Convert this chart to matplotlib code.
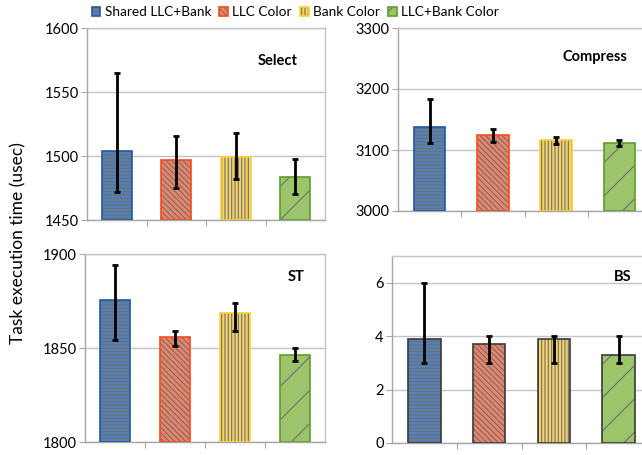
import matplotlib
matplotlib.use("Agg")
import matplotlib.pyplot as plt
from matplotlib.legend_handler import HandlerTuple

plt.rcParams["font.family"] = ["Lato", "DejaVu Sans"]
plt.rcParams["hatch.linewidth"] = 0.8

categories = ["Shared LLC+Bank", "LLC Color", "Bank Color", "LLC+Bank Color"]

select_mean = [1504, 1496.5, 1499.5, 1483.5]
select_low = [1471.5, 1475, 1482, 1470]
select_high = [1565, 1516, 1518, 1498]

compress_mean = [3138, 3125, 3117, 3112]
compress_low = [3111, 3113, 3110, 3107]
compress_high = [3183, 3134, 3121, 3117]

st_mean = [1875.5, 1856, 1868.5, 1846.5]
st_low = [1854, 1851, 1859, 1843]
st_high = [1894, 1859, 1874, 1850]

bs_mean = [3.9, 3.7, 3.9, 3.3]
bs_low = [3, 3, 3, 3]
bs_high = [6, 4, 4, 4]

fills = ["#5381BA", "#EC8468", "#F6D36A", "#9CC46A"]
edges = ["#1F5AA0", "#FF4A1C", "#FFD22A", "#5C9E2C"]
hatches = ["-----", "\\\\\\\\\\\\", "|||||", "/"]
hatch_gray = "#6E6E6E"
grid_gray = "#C4C4C4"
spine_gray = "#A6A6A6"

fig = plt.figure(figsize=(6.42, 4.55), dpi=100)
W, H = 642, 455


def place(l, r, t, b):
    return fig.add_axes([l / W, (H - b) / H, (r - l) / W, (b - t) / H])


panels = [
    dict(box=(87, 325, 28, 220), name="Select", mean=select_mean, lo=select_low,
         hi=select_high, ylim=(1450, 1600), ticks=[1450, 1500, 1550, 1600],
         label_xy=(0.80, 0.83), dark_edges=False),
    dict(box=(398, 651, 28, 211), name="Compress", mean=compress_mean, lo=compress_low,
         hi=compress_high, ylim=(3000, 3300), ticks=[3000, 3100, 3200, 3300],
         label_xy=(0.78, 0.84), dark_edges=False),
    dict(box=(85, 325, 254, 442), name="ST", mean=st_mean, lo=st_low,
         hi=st_high, ylim=(1800, 1900), ticks=[1800, 1850, 1900],
         label_xy=(0.88, 0.88), dark_edges=False),
    dict(box=(392, 651, 256, 443), name="BS", mean=bs_mean, lo=bs_low,
         hi=bs_high, ylim=(0, 7), ticks=[0, 2, 4, 6],
         label_xy=(0.89, 0.89), dark_edges=True),
]

legend_handles = None
for p in panels:
    ax = place(*p["box"])
    x = list(range(len(categories)))
    base = p["ylim"][0]
    heights = [m - base for m in p["mean"]]
    handles = []
    for i in x:
        filled = ax.bar(i, heights[i], bottom=base, width=0.5, color=fills[i],
                        edgecolor=hatch_gray, linewidth=0, hatch=hatches[i], zorder=2)
        ec = "#3A3A3A" if p["dark_edges"] else edges[i]
        outline = ax.bar(i, heights[i], bottom=base, width=0.5, fill=False,
                         edgecolor=ec, linewidth=1.2, zorder=3)
        handles.append((filled, outline))
    if legend_handles is None:
        legend_handles = handles
    err_lo = [m - l for m, l in zip(p["mean"], p["lo"])]
    err_hi = [h - m for m, h in zip(p["mean"], p["hi"])]
    ax.errorbar(x, p["mean"], yerr=[err_lo, err_hi], fmt="none", ecolor="black",
                elinewidth=2, capsize=2.2, capthick=2, zorder=4)
    ax.set_xlim(-0.5, 3.5)
    ax.set_ylim(*p["ylim"])
    ax.set_yticks(p["ticks"])
    ax.set_xticks([0.5, 1.5, 2.5])
    ax.set_xticklabels([])
    ax.tick_params(axis="y", length=4, color=spine_gray, labelsize=10.5, pad=2)
    ax.tick_params(axis="x", length=4, color=spine_gray)
    ax.grid(axis="y", color=grid_gray, linewidth=1, zorder=0)
    ax.set_axisbelow(True)
    for s in ax.spines.values():
        s.set_color(spine_gray)
        s.set_linewidth(1)
    ax.spines["top"].set_color(grid_gray)
    ax.spines["right"].set_color(grid_gray)
    ax.text(*p["label_xy"], p["name"], transform=ax.transAxes, ha="center",
            va="center", fontsize=10.5, fontweight="bold")

fig.legend(legend_handles, categories, loc="center", bbox_to_anchor=(295 / W, 1 - 12 / H),
           ncol=4, frameon=False, fontsize=9.8, handlelength=0.65, handleheight=0.65,
           handletextpad=0.3, columnspacing=0.6,
           handler_map={tuple: HandlerTuple(ndivide=1, pad=0)})

fig.text(18 / W, 1 - 243 / H, "Task execution time (usec)", rotation=90,
         ha="center", va="center", fontsize=12.5)

fig.savefig("out.png", dpi=100)
